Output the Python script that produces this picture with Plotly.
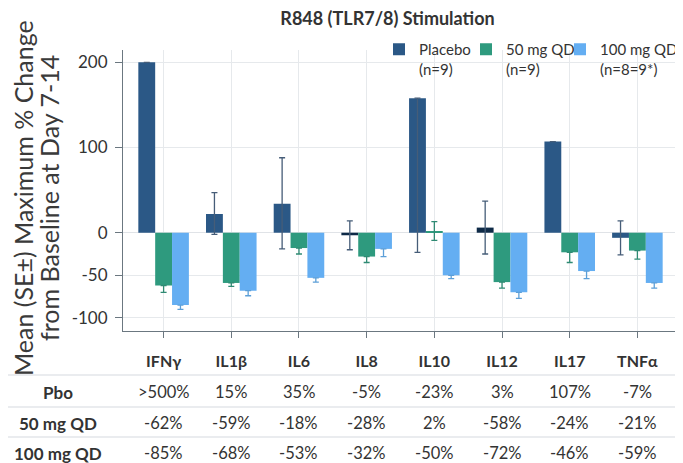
import plotly.graph_objects as go

categories = ["IFNγ", "IL1β", "IL6", "IL8", "IL10", "IL12", "IL17", "TNFα"]

placebo = [200, 22, 34, -3, 158, 6, 107, -6]
placebo_err_plus = [0, 25, 54, 17, 0, 31, 0, 20]
placebo_err_minus = [0, 24, 53, 17, 181, 31, 0, 20]

qd50 = [-62, -59, -18, -28, 2, -58, -23, -21]
qd50_err_plus = [0, 0, 0, 0, 11, 0, 0, 0]
qd50_err_minus = [8, 4, 7, 7, 11, 7, 12, 10]

qd100 = [-85, -68, -53, -19, -50, -70, -45, -59]
qd100_err_plus = [0, 0, 0, 0, 0, 0, 0, 0]
qd100_err_minus = [5, 6, 5, 9, 4, 7, 9, 6]

y_tick_vals = [200, 100, 0, -50, -100]

table_rows = ["Pbo", "50 mg QD", "100 mg QD"]
table_pbo = [">500%", "15%", "35%", "-5%", "-23%", "3%", "107%", "-7%"]
table_50 = ["-62%", "-59%", "-18%", "-28%", "2%", "-58%", "-24%", "-21%"]
table_100 = ["-85%", "-68%", "-53%", "-32%", "-50%", "-72%", "-46%", "-59%"]

C_PBO = "#2b5886"
C_PBO_DARK = "#0e2a47"
C_50 = "#2e9a7e"
C_100 = "#64aef2"
placebo_colors = [C_PBO, C_PBO, C_PBO, C_PBO_DARK, C_PBO, C_PBO_DARK, C_PBO, C_PBO]

FONT = "Lato, 'Open Sans', sans-serif"
TXT = "#333333"

# page body adds an 8px margin; figure is sized/positioned to compensate
OFF = 8
W, H = 683 - OFF, 463 - OFF
L, R, T, B = 123 - OFF, 5, 50 - OFF, 132
PW = W - L - R


def pxx(xr):
    return (xr - OFF - L) / PW


def pxy(yr):
    return (331 - yr) / 281


fig = go.Figure()
fig.add_bar(
    x=categories, y=placebo, name="Placebo<br>(n=9)", legend="legend",
    marker=dict(color=placebo_colors, line=dict(width=0)),
    error_y=dict(type="data", symmetric=False, array=placebo_err_plus,
                 arrayminus=placebo_err_minus, color="#465d78", thickness=1.3, width=3),
)
fig.add_bar(
    x=categories, y=qd50, name="50 mg QD<br>(n=9)", legend="legend2",
    marker=dict(color=C_50, line=dict(width=0)),
    error_y=dict(type="data", symmetric=False, array=qd50_err_plus,
                 arrayminus=qd50_err_minus, color="#2f8a73", thickness=1.3, width=3),
)
fig.add_bar(
    x=categories, y=qd100, name="100 mg QD<br>(n=8=9*)", legend="legend3",
    marker=dict(color=C_100, line=dict(width=0)),
    error_y=dict(type="data", symmetric=False, array=qd100_err_plus,
                 arrayminus=qd100_err_minus, color="#5c9fd8", thickness=1.3, width=3),
)

annotations = []
# y-axis title (two rotated lines)
for txt, xr in [("Mean (SE±) Maximum % Change", 23), ("from Baseline at Day 7-14", 49)]:
    annotations.append(dict(
        text=txt, xref="paper", yref="paper", x=pxx(xr), y=pxy(198),
        textangle=-90, showarrow=False, xanchor="center", yanchor="middle",
        font=dict(family=FONT, size=25, color="#3a3a3a"),
    ))
# table
row_py = [392, 423, 453]
row_vals = [table_pbo, table_50, table_100]
for label, py, vals in zip(table_rows, row_py, row_vals):
    yp = pxy(py)
    annotations.append(dict(
        text=label, xref="paper", yref="paper", x=pxx(58), y=yp,
        showarrow=False, xanchor="center", yanchor="middle",
        font=dict(family=FONT, size=17, color=TXT, weight="bold"),
    ))
    for cat, v in zip(categories, vals):
        annotations.append(dict(
            text=v, xref="x", yref="paper", x=cat, y=yp,
            showarrow=False, xanchor="center", yanchor="middle",
            font=dict(family=FONT, size=16.5, color=TXT),
        ))

shapes = []
for py in [375, 407, 437]:
    yp = pxy(py)
    shapes.append(dict(type="line", xref="paper", yref="paper",
                       x0=pxx(8), x1=pxx(690), y0=yp, y1=yp,
                       line=dict(color="#e3e6ea", width=1.5)))


def leg(xr, anchor="left"):
    return dict(orientation="h", x=pxx(xr), y=pxy(33),
                xanchor=anchor, yanchor="top", valign="top",
                font=dict(family=FONT, size=15, color=TXT),
                bgcolor="rgba(0,0,0,0)")


fig.update_layout(
    width=W, height=H,
    margin=dict(l=L, r=R, t=T, b=B, autoexpand=False),
    paper_bgcolor="white", plot_bgcolor="white",
    barmode="group", bargap=0.253, bargroupgap=0,
    title=dict(text="<b>R848 (TLR7/8) Stimulation</b>", x=(387.5 - OFF) / W, xanchor="center",
               y=1 - (19 - OFF) / H, yanchor="middle",
               font=dict(family=FONT, size=18, color=TXT)),
    legend=leg(379), legend2=leg(466), legend3=leg(683, "right"),
    annotations=annotations,
    shapes=shapes,
    showlegend=True,
)
fig.update_xaxes(
    range=[-0.6, 7.6], showline=True, linecolor="#6b7780", linewidth=1,
    ticks="outside", ticklen=6, tickcolor="#6b7780",
    showgrid=True, gridcolor="#e6e9ec", gridwidth=1,
    tickfont=dict(family=FONT, size=16, color=TXT, weight="bold"),
    ticklabelstandoff=10,
)
fig.update_yaxes(
    range=[-115.4, 214.5], tickvals=y_tick_vals, ticktext=[str(v) for v in y_tick_vals],
    showline=True, linecolor="#6b7780", linewidth=1,
    ticks="outside", ticklen=7, tickcolor="#6b7780",
    showgrid=True, gridcolor="#e6e9ec", gridwidth=1,
    zeroline=True, zerolinecolor="#e0e3e7", zerolinewidth=1,
    tickfont=dict(family=FONT, size=17, color=TXT),
    ticklabelstandoff=4,
)

fig.write_html("out.html")
